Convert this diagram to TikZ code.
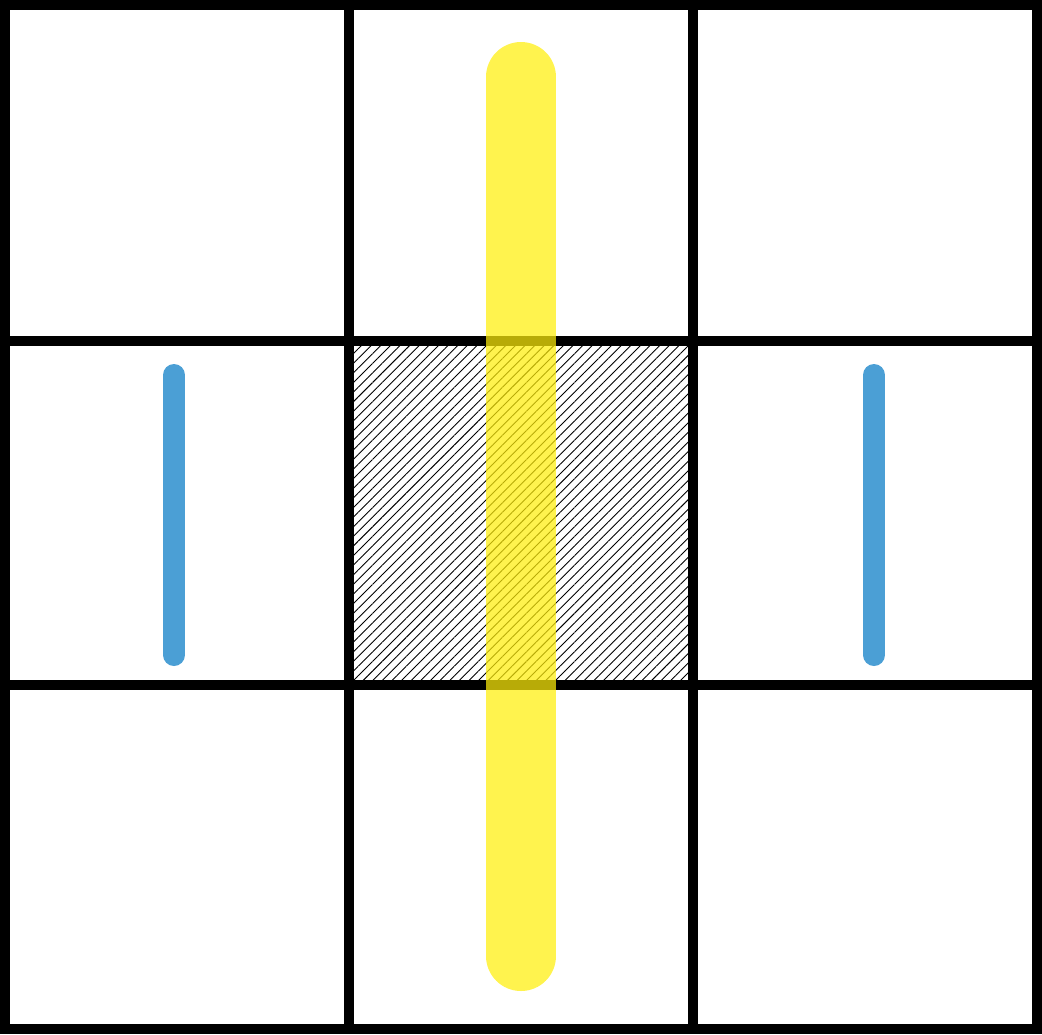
\documentclass[tikz,border=0pt]{standalone}
\usepackage{tikz}
\usetikzlibrary{patterns.meta}
\definecolor{barYellow}{RGB}{255,238,10}
\definecolor{barBlue}{RGB}{75,159,213}
\tikzset{
    grid line/.style={
        draw=black,
        line width=5pt
    },
    hatch cell/.style={
        pattern={Lines[angle=45, distance=3.4pt, line width=0.45pt]},
        pattern color=black
    },
    wide bar/.style={
        draw=barYellow,
        draw opacity=0.72,
        line width=35pt,
        line cap=round
    },
    thin bar/.style={
        draw=barBlue,
        line width=11pt,
        line cap=round
    }
}

\begin{document}
\begin{tikzpicture}[x=0.5pt, y=-0.5pt]

    % Picture frame
    \useasboundingbox (0,0) rectangle (1042,1034);

    % Hatched centre cell
    \fill[hatch cell] (354,346) rectangle (688,680);

    % Three by three grid
    \draw[grid line] (5,5) rectangle (1037,1029);
    \foreach \gx in {349,693} {
        \draw[grid line] (\gx,5) -- (\gx,1029);
    }
    \foreach \gy in {341,685} {
        \draw[grid line] (5,\gy) -- (1037,\gy);
    }

    % Long bar through the middle column
    \coordinate (wtop) at (521,77);
    \coordinate (wbot) at (521,956);
    \draw[wide bar] (wtop) -- (wbot);

    % Short bars in the side cells
    \coordinate (ltop) at (174,375);
    \coordinate (lbot) at (174,655);
    \coordinate (rtop) at (874,375);
    \coordinate (rbot) at (874,655);
    \draw[thin bar] (ltop) -- (lbot);
    \draw[thin bar] (rtop) -- (rbot);

\end{tikzpicture}
\end{document}
